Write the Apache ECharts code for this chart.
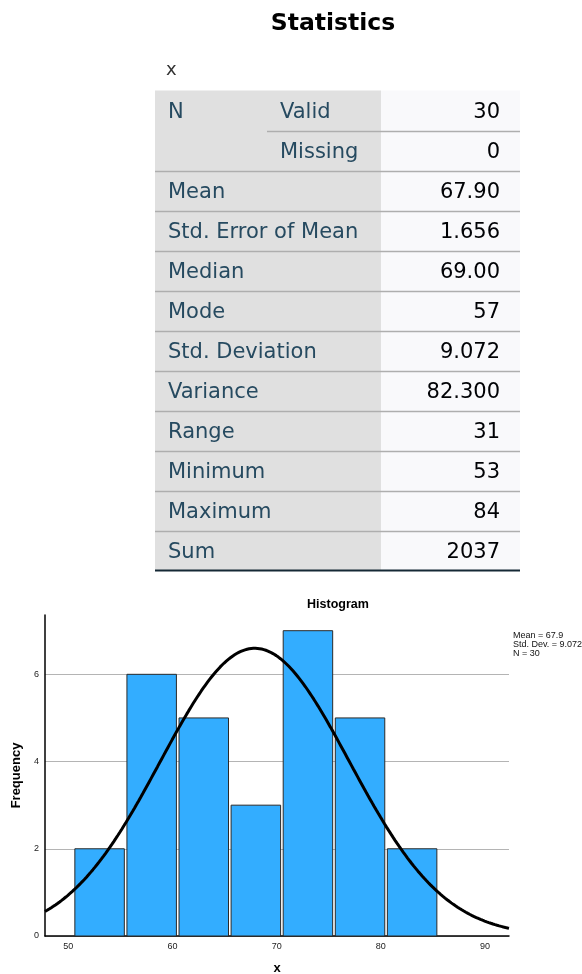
<!DOCTYPE html>
<html>
<head>
<meta charset="utf-8">
<script src="https://cdn.jsdelivr.net/npm/echarts@6/dist/echarts.min.js"></script>
<style>
html,body{margin:0;padding:0;background:#fff;}
#chart{width:582px;height:974px;}
</style>
</head>
<body>
<div id="chart"></div>
<script>
// ---- Table data ----
const tableTitle = 'Statistics';
const variableName = 'x';
const nLabel = 'N';
const nSubLabels = ['Valid', 'Missing'];
const nValues = ['30', '0'];
const statLabels = ['Mean', 'Std. Error of Mean', 'Median', 'Mode', 'Std. Deviation', 'Variance', 'Range', 'Minimum', 'Maximum', 'Sum'];
const statValues = ['67.90', '1.656', '69.00', '57', '9.072', '82.300', '31', '53', '84', '2037'];

// ---- Histogram data ----
const histTitle = 'Histogram';
const binCenters = [53, 58, 63, 68, 73, 78, 83];
const frequencies = [2, 6, 5, 3, 7, 5, 2];
const binWidth = 5;
const xTickValues = [50, 60, 70, 80, 90];
const yTickValues = [0, 2, 4, 6];
const meanValue = 67.9;
const stdDevValue = 9.072;
const nTotal = 30;
const infoLines = ['Mean = 67.9', 'Std. Dev. = 9.072', 'N = 30'];
const xAxisRange = [47.76, 92.3];
const yAxisRange = [0, 7.36];

// ---- Build table graphics ----
const T = { left: 155, right: 520, split: 381, subX: 267, top: 90.5, rowH: 40 };
const labelColor = '#264a60';
const valueColor = '#010205';
const tableFont = '21px "DejaVu Sans", sans-serif';
const g = [];
const nRows = nSubLabels.length + statLabels.length;
const tableBottom = T.top + nRows * T.rowH;
g.push({ type: 'rect', shape: { x: T.left, y: T.top, width: T.split - T.left, height: tableBottom - T.top }, style: { fill: '#e0e0e0' }, silent: true });
g.push({ type: 'rect', shape: { x: T.split, y: T.top, width: T.right - T.split, height: tableBottom - T.top }, style: { fill: '#f9f9fb' }, silent: true });
g.push({ type: 'text', x: 333, y: 24, style: { text: tableTitle, font: 'bold 23.5px "DejaVu Sans", sans-serif', fill: '#000', align: 'center', verticalAlign: 'middle' } });
g.push({ type: 'text', x: 166, y: 70, style: { text: variableName, font: '18px "DejaVu Sans", sans-serif', fill: '#333', align: 'left', verticalAlign: 'middle' } });
g.push({ type: 'text', x: 168, y: T.top + T.rowH / 2 + 2, style: { text: nLabel, font: tableFont, fill: labelColor, align: 'left', verticalAlign: 'middle' } });
nSubLabels.forEach((s, i) => {
  const cy = T.top + i * T.rowH + T.rowH / 2 + 2;
  g.push({ type: 'text', x: 280, y: cy, style: { text: s, font: tableFont, fill: labelColor, align: 'left', verticalAlign: 'middle' } });
  g.push({ type: 'text', x: 500, y: cy, style: { text: nValues[i], font: tableFont, fill: valueColor, align: 'right', verticalAlign: 'middle' } });
});
statLabels.forEach((s, i) => {
  const r = i + nSubLabels.length;
  const cy = T.top + r * T.rowH + T.rowH / 2 + 2;
  g.push({ type: 'text', x: 168, y: cy, style: { text: s, font: tableFont, fill: labelColor, align: 'left', verticalAlign: 'middle' } });
  g.push({ type: 'text', x: 500, y: cy, style: { text: statValues[i], font: tableFont, fill: valueColor, align: 'right', verticalAlign: 'middle' } });
});
for (let r = 1; r < nRows; r++) {
  const y = Math.round(T.top + r * T.rowH) + 0.5;
  g.push({ type: 'line', shape: { x1: r === 1 ? T.subX : T.left, y1: y, x2: T.right, y2: y }, style: { stroke: '#aeaeae', lineWidth: 1.5 }, silent: true });
}
g.push({ type: 'line', shape: { x1: T.left, y1: tableBottom, x2: T.right, y2: tableBottom }, style: { stroke: '#152935', lineWidth: 2 }, silent: true });

// Histogram titles / info text
g.push({ type: 'text', x: 338, y: 605, style: { text: histTitle, font: 'bold 12.5px "Liberation Sans", Arial, sans-serif', fill: '#000', align: 'center', verticalAlign: 'middle' } });
g.push({ type: 'text', x: 513, y: 631, style: { text: infoLines.join('\n'), font: '9px "Liberation Sans", Arial, sans-serif', lineHeight: 9, fill: '#111', align: 'left', verticalAlign: 'top' } });

// ---- Series data ----
const binData = binCenters.map((c, i) => [c - binWidth / 2, c + binWidth / 2, frequencies[i]]);
const curveData = [];
for (let x = xAxisRange[0]; x <= xAxisRange[1] + 1e-9; x += 0.2) {
  const z = (x - meanValue) / stdDevValue;
  curveData.push([x, nTotal * binWidth * Math.exp(-0.5 * z * z) / (stdDevValue * Math.sqrt(2 * Math.PI))]);
}
curveData.push([xAxisRange[1], nTotal * binWidth * Math.exp(-0.5 * Math.pow((xAxisRange[1] - meanValue) / stdDevValue, 2)) / (stdDevValue * Math.sqrt(2 * Math.PI))]);

const chart = echarts.init(document.getElementById('chart'), null, { renderer: 'canvas' });
chart.setOption({
  animation: false,
  backgroundColor: '#fff',
  graphic: g,
  grid: { left: 45, right: 73, top: 615, bottom: 38, outerBoundsMode: 'none', containLabel: false },
  xAxis: {
    type: 'value', min: xAxisRange[0], max: xAxisRange[1],
    name: 'x', nameLocation: 'middle', nameGap: 26,
    nameTextStyle: { fontFamily: '"Liberation Sans", Arial, sans-serif', fontWeight: 'bold', fontSize: 13, color: '#000' },
    axisLine: { show: true, onZero: false, lineStyle: { color: '#000', width: 1.5 } },
    axisTick: { show: false, customValues: xTickValues },
    axisLabel: { customValues: xTickValues, margin: 6, fontSize: 9, color: '#222', fontFamily: '"Liberation Sans", Arial, sans-serif' },
    splitLine: { show: false }
  },
  yAxis: {
    type: 'value', min: yAxisRange[0], max: yAxisRange[1],
    name: 'Frequency', nameLocation: 'middle', nameGap: 21,
    nameTextStyle: { fontFamily: '"Liberation Sans", Arial, sans-serif', fontWeight: 'bold', fontSize: 13, color: '#000' },
    axisLine: { show: true, lineStyle: { color: '#000', width: 1.5 } },
    axisTick: { show: false, customValues: yTickValues },
    axisLabel: { customValues: yTickValues, margin: 6, fontSize: 9, color: '#222', fontFamily: '"Liberation Sans", Arial, sans-serif' },
    splitLine: { show: true, lineStyle: { color: '#b4b4b4', width: 1 } }
  },
  series: [
    {
      type: 'custom',
      data: binData,
      encode: { x: [0, 1], y: 2 },
      z: 2,
      renderItem: function (params, api) {
        const lo = api.value(0), hi = api.value(1), f = api.value(2);
        const p0 = api.coord([lo, 0]);
        const p1 = api.coord([hi, f]);
        return {
          type: 'rect',
          shape: { x: p0[0] + 1.3, y: p1[1], width: p1[0] - p0[0] - 2.6, height: p0[1] - p1[1] },
          style: { fill: '#33adff', stroke: '#2a2a2a', lineWidth: 1 }
        };
      }
    },
    {
      type: 'line',
      data: curveData,
      showSymbol: false,
      smooth: false,
      z: 3,
      lineStyle: { color: '#000', width: 3 }
    }
  ]
});
</script>
</body>
</html>
